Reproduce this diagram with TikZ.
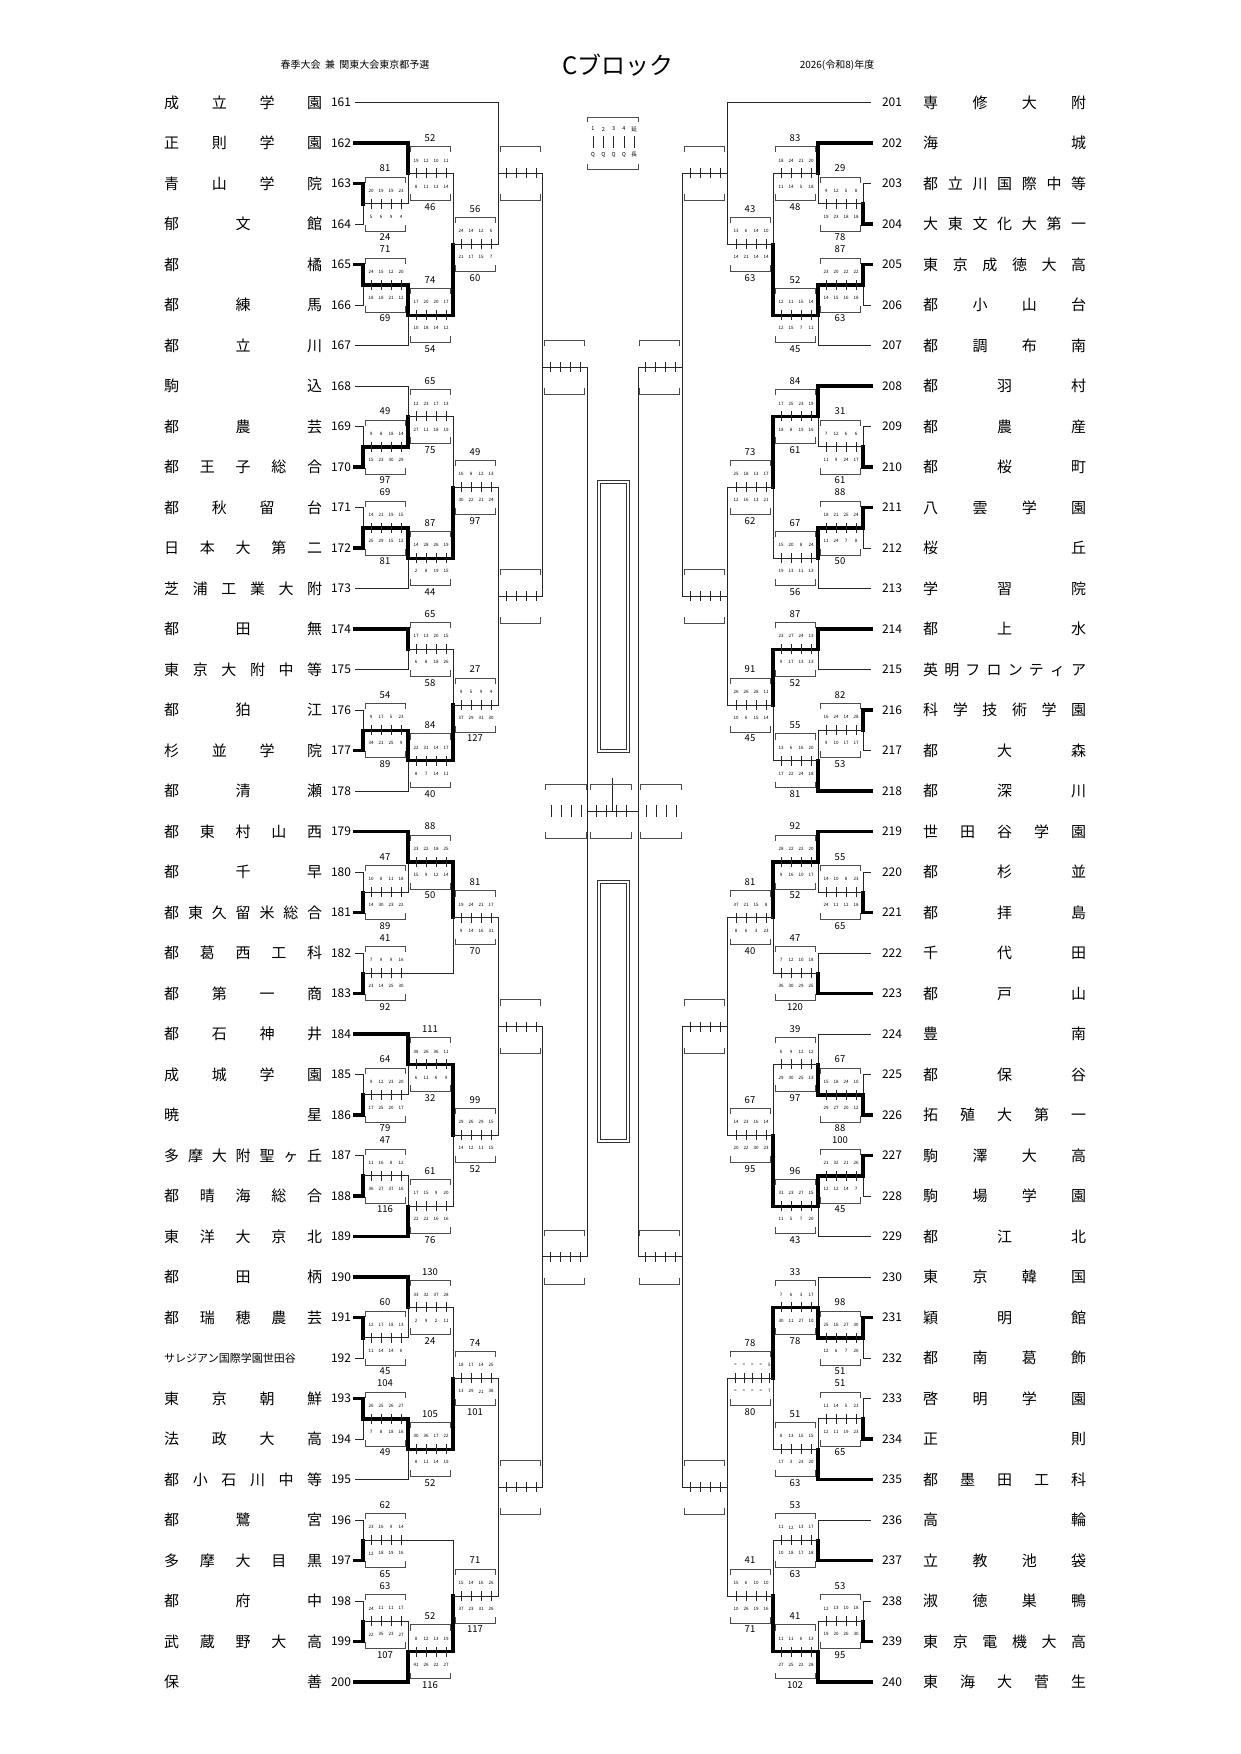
\documentclass[tikz,border=0pt]{standalone}
\usepackage{fontspec}
\setmainfont{Noto Sans CJK JP}
\begin{document}
\makeatletter
\def\setP#1#2#3{\expandafter\xdef\csname PX#1\endcsname{#2}\expandafter\xdef\csname PY#1\endcsname{#3}}
\def\PX#1{\csname PX#1\endcsname}
\def\PY#1{\csname PY#1\endcsname}
\def\spr#1{\sprA#1\relax}
\def\sprA#1{#1\sprB}
\def\sprB#1{\ifx\relax#1\else\hfill\expandafter\sprA\expandafter#1\fi}
\makeatother
\newcommand\MatchAt[7]{%
  \setP{#1}{#3}{#7}%
  \edef\xa{\PX{#4}}\edef\ya{\PY{#4}}\edef\xb{\PX{#5}}\edef\yb{\PY{#5}}%
  \coordinate (#1) at (#3,-#7);
  \draw[lose] (\xa,-\ya) -- (#3,-\ya) -- (#3,-#7);
  \draw[lose] (\xb,-\yb) -- (#3,-\yb) -- (#3,-#7);
  \ifnum#6=1 \draw[win] (\xa,-\ya) -- (#3,-\ya) -- (#3,-#7);\fi
  \ifnum#6=2 \draw[win] (\xb,-\yb) -- (#3,-\yb) -- (#3,-#7);\fi
}
\newcommand\Match[6]{\pgfmathsetmacro\tmpm{(\PY{#4}+\PY{#5})/2}\MatchAt{#1}{#2}{#3}{#4}{#5}{#6}{\tmpm}}
\newcommand\Brk[2]{% name side
  \pgfmathsetmacro\bL{\PX{#1}-22.5+22.5*#2}\edef\mY{\PY{#1}}%
  \draw[brk] (\bL+2,-\mY+21) -- (\bL+2,-\mY+27) -- (\bL+42,-\mY+27) -- (\bL+42,-\mY+21);
  \draw[brk] (\bL+2,-\mY-21) -- (\bL+2,-\mY-27) -- (\bL+42,-\mY-27) -- (\bL+42,-\mY-21);
}
\newcommand\EBox[2]{\Brk{#1}{#2}%
  \foreach \k in {0,...,3}{\draw[tk] (\bL+8+10*\k,-\mY-5) -- (\bL+8+10*\k,-\mY+5);}}
\newcommand\SBox[7][10]{\Brk{#2}{#3}%
  \foreach \v [count=\k from 0] in {#4}{\draw[tk] (\bL+4+#1*\k+0.4*#1,-\mY-5) -- (\bL+4+#1*\k+0.4*#1,-\mY+5);
     \node[sc] at (\bL+4+#1*\k+0.4*#1,-\mY+13) {\v};}
  \foreach \v [count=\k from 0] in {#6}{\node[sc] at (\bL+4+#1*\k+0.4*#1,-\mY-13) {\v};}
  \node[tot] at (\bL+22,-\mY+35.5) {#5};
  \node[tot] at (\bL+22,-\mY-33.5) {#7};
}
\tikzset{
 lose/.style={line width=0.8pt,black!85},
 win/.style={line width=3.3pt,black,line cap=rect},
 brk/.style={line width=0.7pt,black!70},
 tk/.style={line width=0.7pt,black!85},
 sc/.style={font=\fontsize{4.5}{5}\selectfont,inner sep=0},
 tot/.style={font=\fontsize{9.5}{10}\selectfont,inner sep=0},
 num/.style={font=\fontsize{12}{12}\selectfont,inner sep=0},
 nm/.style={font=\fontsize{15}{15}\selectfont,anchor=west,inner sep=0},
 hd/.style={font=\fontsize{10}{10}\selectfont,inner sep=0}}
\begin{tikzpicture}[x=1pt,y=1pt]
\useasboundingbox (0,0) rectangle (1241,-1754);
\fill[white] (0,0) rectangle (1241,-1754);
% headers
\node[hd] (h1) at (355,-65) {春季大会\ \ 兼\ \ 関東大会東京都予選};
\node[font=\fontsize{24}{24}\selectfont,inner sep=0] (title) at (618,-65) {Cブロック};
\node[hd] (h2) at (837,-65) {2026(令和8)年度};
% legend
\draw[brk] (587,-122) -- (587,-117) -- (638,-117) -- (638,-122);
\draw[brk] (587,-164) -- (587,-169) -- (638,-169) -- (638,-164);
\foreach \t/\b [count=\k from 0] in {1/Q,2/Q,3/Q,4/Q,延/長}{
  \node[sc,font=\fontsize{5.5}{6}\selectfont] (lg\k) at (593+10.3*\k,-129) {\t};
  \draw[tk] (593+10.3*\k,-136) -- (593+10.3*\k,-148);
  \node[sc,font=\fontsize{5.5}{6}\selectfont] (lb\k) at (593+10.3*\k,-155) {\b};}
% teams left
\foreach \nm [count=\i from 161] in {成立学園,正則学園,青山学院,郁文館,都橘,都練馬,都立川,駒込,都農芸,都王子総合,都秋留台,日本大第二,芝浦工業大附,都田無,東京大附中等,都狛江,杉並学院,都清瀬,都東村山西,都千早,都東久留米総合,都葛西工科,都第一商,都石神井,成城学園,暁星,多摩大附聖ヶ丘,都晴海総合,東洋大京北,都田柄,都瑞穂農芸,X,東京朝鮮,法政大高,都小石川中等,都鷺宮,多摩大目黒,都府中,武蔵野大高,保善}{
  \pgfmathsetmacro\yy{102.6+40.5*(\i-161)}
  \setP{\i}{355}{\yy}
  \coordinate (t\i) at (355,-\yy);
  \node[num] (n\i) at (341,-\yy) {\i};
  \ifnum\i=192 \node[nm,font=\fontsize{11}{11}\selectfont] (m\i) at (164,-\yy) {\makebox[158pt][s]{サレジアン国際学園世田谷}};
  \else \node[nm] (m\i) at (164,-\yy) {\makebox[158pt][s]{\expandafter\spr\expandafter{\nm}}};\fi
}
% teams right
\foreach \nm [count=\i from 201] in {専修大附,海城,都立川国際中等,大東文化大第一,東京成徳大高,都小山台,都調布南,都羽村,都農産,都桜町,八雲学園,桜丘,学習院,都上水,英明フロンティア,科学技術学園,都大森,都深川,世田谷学園,都杉並,都拝島,千代田,都戸山,豊南,都保谷,拓殖大第一,駒澤大高,駒場学園,都江北,東京韓国,穎明館,都南葛飾,啓明学園,正則,都墨田工科,高輪,立教池袋,淑徳巣鴨,東京電機大高,東海大菅生}{
  \pgfmathsetmacro\yy{102.6+40.5*(\i-201)}
  \setP{\i}{871}{\yy}
  \coordinate (t\i) at (871,-\yy);
  \node[num] (n\i) at (892,-\yy) {\i};
  \node[nm] (m\i) at (923,-\yy) {\makebox[163pt][s]{\expandafter\spr\expandafter{\nm}}};
}
% ---------- left bracket
\Match{g1a}{1}{363}{163}{164}{1}
\Match{g1b}{1}{408}{162}{g1a}{1}
\Match{g1c}{1}{363}{165}{166}{1}
\Match{g1d}{1}{408}{g1c}{167}{1}
\Match{g1e}{1}{453}{g1b}{g1d}{2}
\Match{g1f}{1}{498}{161}{g1e}{0}
\Match{A}{1}{363}{169}{170}{2}
\Match{B}{1}{408}{168}{A}{2}
\Match{C}{1}{363}{171}{172}{2}
\Match{D}{1}{408}{C}{173}{1}
\Match{E}{1}{453}{B}{D}{2}
\Match{F}{1}{408}{174}{175}{1}
\Match{G}{1}{363}{176}{177}{2}
\Match{H}{1}{408}{G}{178}{1}
\Match{I}{1}{453}{F}{H}{2}
\Match{J}{1}{498}{E}{I}{0}
\Match{L}{1}{363}{180}{181}{2}
\Match{K}{1}{408}{179}{L}{1}
\Match{M}{1}{363}{182}{183}{2}
\Match{N}{1}{453}{K}{M}{1}
\Match{O}{1}{363}{185}{186}{2}
\Match{P}{1}{408}{184}{O}{1}
\Match{Q}{1}{363}{187}{188}{2}
\Match{R}{1}{408}{Q}{189}{2}
\Match{S}{1}{453}{P}{R}{1}
\Match{T}{1}{498}{N}{S}{0}
\Match{U}{1}{363}{191}{192}{1}
\Match{V}{1}{408}{190}{U}{1}
\Match{W}{1}{363}{193}{194}{1}
\Match{X}{1}{408}{W}{195}{1}
\Match{Y}{1}{453}{V}{X}{2}
\Match{Z}{1}{363}{196}{197}{2}
\Match{AA}{1}{363}{198}{199}{2}
\Match{AB}{1}{408}{AA}{200}{2}
\Match{AC}{1}{453}{Z}{AB}{2}
\Match{AD}{1}{498}{Y}{AC}{0}
\MatchAt{L5a}{1}{542}{g1f}{J}{0}{367}
\Match{L5b}{1}{542}{T}{AD}{0}
\MatchAt{FL}{1}{587}{L5a}{L5b}{0}{811}
\SBox{g1a}{1}{20,19,19,23}{81}{5,6,9,4}{24}
\SBox{g1b}{1}{19,12,10,11}{52}{8,11,13,14}{46}
\SBox{g1c}{1}{24,15,12,20}{71}{18,18,21,12}{69}
\SBox{g1d}{1}{17,20,20,17}{74}{10,18,14,12}{54}
\SBox{g1e}{1}{24,14,12,6}{56}{21,17,15,7}{60}
\EBox{g1f}{1}
\SBox{A}{1}{9,8,18,14}{49}{15,23,30,29}{97}
\SBox{B}{1}{12,23,17,13}{65}{27,11,18,19}{75}
\SBox{C}{1}{14,21,19,15}{69}{25,29,15,12}{81}
\SBox{D}{1}{14,28,26,19}{87}{2,8,19,15}{44}
\SBox{E}{1}{16,8,12,13}{49}{30,22,21,24}{97}
\SBox{F}{1}{17,13,20,15}{65}{6,8,18,26}{58}
\SBox{G}{1}{9,17,5,23}{54}{34,21,25,9}{89}
\SBox{H}{1}{22,31,14,17}{84}{8,7,14,11}{40}
\SBox{I}{1}{9,5,9,4}{27}{37,29,31,30}{127}
\EBox{J}{1}
\SBox{L}{1}{10,8,11,18}{47}{14,30,23,22}{89}
\SBox{K}{1}{23,22,18,25}{88}{15,9,12,14}{50}
\SBox{M}{1}{7,9,9,16}{41}{23,14,25,30}{92}
\SBox{N}{1}{19,24,21,17}{81}{9,14,16,31}{70}
\SBox{O}{1}{9,12,23,20}{64}{17,25,20,17}{79}
\SBox{P}{1}{38,26,36,11}{111}{6,11,6,9}{32}
\SBox{Q}{1}{11,16,8,12}{47}{36,27,37,16}{116}
\SBox{R}{1}{17,15,9,20}{61}{22,22,16,16}{76}
\SBox{S}{1}{29,26,29,15}{99}{14,12,11,15}{52}
\EBox{T}{1}
\SBox{U}{1}{12,17,18,13}{60}{11,14,14,6}{45}
\SBox{V}{1}{33,32,37,28}{130}{2,9,2,11}{24}
\SBox{W}{1}{26,25,26,27}{104}{7,8,18,16}{49}
\SBox{X}{1}{30,36,17,22}{105}{8,11,14,19}{52}
\SBox{Y}{1}{18,17,14,25}{74}{13,29,21,38}{101}
\SBox{Z}{1}{23,16,9,14}{62}{12,18,19,16}{65}
\SBox{AA}{1}{24,11,11,17}{63}{22,35,23,27}{107}
\SBox{AB}{1}{8,12,13,19}{52}{41,26,22,27}{116}
\SBox{AC}{1}{15,14,16,26}{71}{37,23,31,26}{117}
\EBox{AD}{1}
\EBox{L5a}{1}
\EBox{L5b}{1}
% ---------- right bracket
\Match{a}{-1}{863}{203}{204}{2}
\Match{b}{-1}{818}{202}{a}{1}
\Match{c}{-1}{863}{205}{206}{1}
\Match{d}{-1}{818}{c}{207}{1}
\Match{e}{-1}{773}{b}{d}{2}
\Match{f}{-1}{727}{201}{e}{0}
\Match{g}{-1}{863}{209}{210}{2}
\Match{h}{-1}{818}{208}{g}{1}
\Match{i}{-1}{863}{211}{212}{1}
\Match{j}{-1}{818}{i}{213}{1}
\Match{k}{-1}{773}{h}{j}{1}
\Match{l}{-1}{818}{214}{215}{1}
\Match{m}{-1}{863}{216}{217}{1}
\Match{n}{-1}{818}{m}{218}{2}
\Match{o}{-1}{773}{l}{n}{1}
\Match{p}{-1}{727}{k}{o}{0}
\Match{q}{-1}{863}{220}{221}{2}
\Match{r}{-1}{818}{219}{q}{1}
\Match{s2}{-1}{818}{222}{223}{2}
\Match{t}{-1}{773}{r}{s2}{1}
\Match{u}{-1}{863}{225}{226}{2}
\Match{v}{-1}{818}{224}{u}{2}
\Match{w}{-1}{863}{227}{228}{1}
\Match{x}{-1}{818}{w}{229}{1}
\Match{y}{-1}{773}{v}{x}{2}
\Match{z}{-1}{727}{t}{y}{0}
\Match{aa}{-1}{863}{231}{232}{1}
\Match{ab}{-1}{818}{230}{aa}{2}
\Match{ac}{-1}{863}{233}{234}{2}
\Match{ad}{-1}{818}{ac}{235}{2}
\Match{ae}{-1}{773}{ab}{ad}{1}
\Match{af}{-1}{818}{236}{237}{2}
\Match{ag}{-1}{863}{238}{239}{2}
\Match{ah}{-1}{818}{ag}{240}{2}
\Match{ai}{-1}{773}{af}{ah}{2}
\Match{aj}{-1}{727}{ae}{ai}{0}
\MatchAt{R5a}{-1}{682}{f}{p}{0}{367}
\Match{R5b}{-1}{682}{z}{aj}{0}
\MatchAt{FR}{-1}{638}{R5a}{R5b}{0}{811}
\SBox{a}{-1}{4,12,5,8}{29}{19,23,18,18}{78}
\SBox{b}{-1}{18,24,21,20}{83}{11,14,5,18}{48}
\SBox{c}{-1}{23,20,22,22}{87}{14,15,16,18}{63}
\SBox{d}{-1}{12,11,15,14}{52}{12,15,7,11}{45}
\SBox{e}{-1}{13,6,14,10}{43}{14,21,14,14}{63}
\EBox{f}{-1}
\SBox{g}{-1}{7,12,6,6}{31}{11,9,24,17}{61}
\SBox{h}{-1}{17,25,23,19}{84}{18,8,19,16}{61}
\SBox{i}{-1}{18,21,25,24}{88}{11,24,7,8}{50}
\SBox{j}{-1}{15,20,8,24}{67}{19,13,11,13}{56}
\SBox{k}{-1}{25,18,13,17}{73}{12,16,13,21}{62}
\SBox{l}{-1}{23,27,24,13}{87}{9,17,13,13}{52}
\SBox{m}{-1}{16,24,14,28}{82}{9,10,17,17}{53}
\SBox{n}{-1}{13,6,16,20}{55}{17,22,24,18}{81}
\SBox{o}{-1}{26,26,28,11}{91}{10,6,15,14}{45}
\EBox{p}{-1}
\SBox{q}{-1}{14,10,8,23}{55}{24,11,12,18}{65}
\SBox{r}{-1}{28,22,22,20}{92}{9,16,10,17}{52}
\SBox{s2}{-1}{7,12,10,18}{47}{36,30,29,25}{120}
\SBox{t}{-1}{37,21,15,8}{81}{8,6,3,23}{40}
\SBox{u}{-1}{15,18,24,10}{67}{29,27,20,12}{88}
\SBox{v}{-1}{6,9,12,12}{39}{29,30,25,13}{97}
\SBox{w}{-1}{21,32,21,26}{100}{12,12,14,7}{45}
\SBox{x}{-1}{31,23,27,15}{96}{11,5,7,20}{43}
\SBox{y}{-1}{14,23,16,14}{67}{20,22,30,23}{95}
\EBox{z}{-1}
\SBox{aa}{-1}{25,16,27,30}{98}{12,6,7,26}{51}
\SBox{ab}{-1}{7,6,3,17}{33}{30,11,27,10}{78}
\SBox{ac}{-1}{11,14,5,21}{51}{12,11,19,23}{65}
\SBox{ad}{-1}{8,13,15,15}{51}{17,3,23,20}{63}
\SBox[8.5]{ae}{-1}{=,=,=,=,5}{78}{=,=,=,=,7}{80}
\SBox{af}{-1}{11,12,13,17}{53}{10,18,17,18}{63}
\SBox{ag}{-1}{12,13,10,18}{53}{19,20,26,30}{95}
\SBox{ah}{-1}{11,11,6,13}{41}{27,25,22,28}{102}
\SBox{ai}{-1}{15,6,10,10}{41}{10,26,19,16}{71}
\EBox{aj}{-1}
\EBox{R5a}{-1}
\EBox{R5b}{-1}
% ---------- final
\draw[lose] (FL) -- (FR);
\coordinate (stub) at (612.5,-778);
\draw[lose] (stub) -- (612.5,-811);
\foreach \xl in {545,590,640}{
  \draw[brk] (\xl,-790) -- (\xl,-784) -- (\xl+41,-784) -- (\xl+41,-790);
  \draw[brk] (\xl,-832) -- (\xl,-838) -- (\xl+41,-838) -- (\xl+41,-832);
  \foreach \k in {0,...,3}{\draw[tk] (\xl+6+10*\k,-805) -- (\xl+6+10*\k,-817);}}
% center rectangles
\foreach \ya/\yb in {480/752,880/1142}{
  \draw[line width=0.8pt,black!80] (597,-\ya) rectangle (629,-\yb);
  \draw[line width=0.8pt,black!80] (600,-\ya-3) rectangle (626,-\yb+3);}
\end{tikzpicture}
\end{document}
